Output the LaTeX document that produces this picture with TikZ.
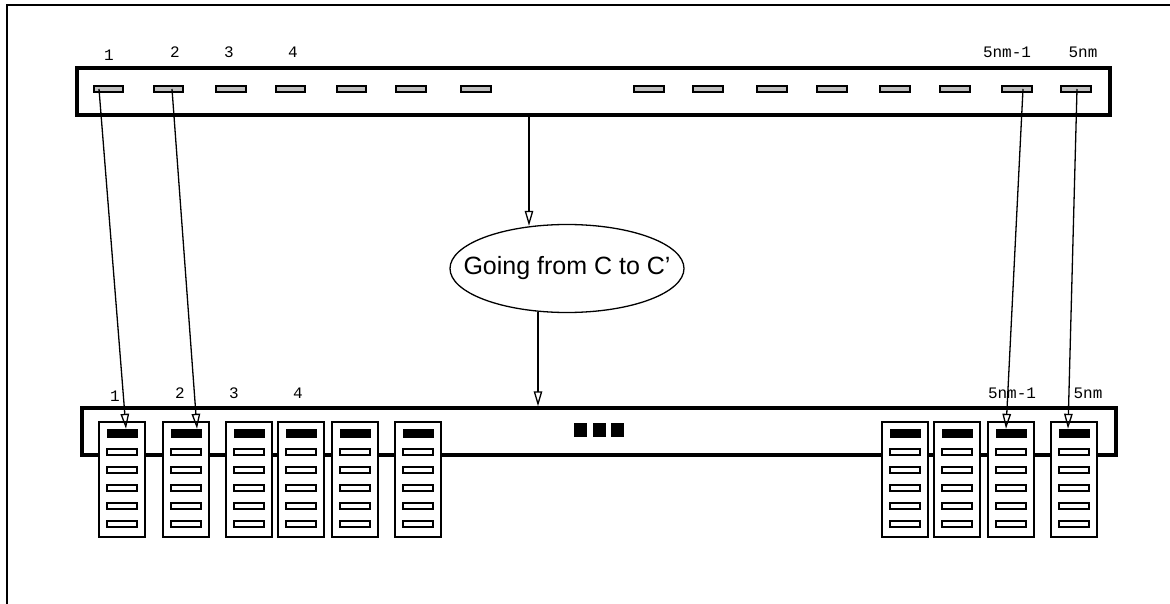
\documentclass[tikz,border=0pt]{standalone}
\usepackage{fontspec}
\setmainfont{Liberation Sans}
\newfontfamily\labfont{Liberation Mono}
\usetikzlibrary{shapes.geometric,arrows.meta,calc}
\definecolor{slotgrey}{RGB}{192,192,192}
\begin{document}
\begin{tikzpicture}[x=1pt,y=-1pt,
  bigbar/.style={draw, line width=3.5pt, fill=white, inner sep=0pt},
  tslot/.style={draw, line width=1.8pt, fill=slotgrey, minimum width=29.5pt, minimum height=6.5pt, inner sep=0pt},
  card/.style={draw, line width=1.6pt, fill=white, minimum width=46.5pt, minimum height=115.5pt, inner sep=0pt},
  kbar/.style={fill=black, minimum width=31pt, minimum height=9pt, inner sep=0pt},
  wslot/.style={draw, line width=1.8pt, fill=white, minimum width=29.5pt, minimum height=6.5pt, inner sep=0pt},
  dotsq/.style={fill=black, minimum width=13pt, minimum height=14pt, inner sep=0pt},
  lab/.style={font=\labfont\fontsize{16}{16}\selectfont, inner sep=0pt},
  arr/.style={line width=1.3pt, -{Triangle[open, length=15pt, width=8.5pt]}}]
\useasboundingbox (0,0) rectangle (1170,604);
% frame
\draw[line width=2pt] (7,604) -- (7,5) -- (1170,5);
% top bar
\node[bigbar, minimum width=1033pt, minimum height=47pt] (top) at (593.5,91.5) {};
\foreach \x [count=\i] in {108.5,168.5,231,290.5,351.5,411,476,649,708,772,832,895,955,1017,1076}
  \node[tslot] (t\i) at (\x,89) {};
% top labels
\node[lab] (lt1) at (109,55) {1};
\node[lab] (lt2) at (175,52) {2};
\node[lab] (lt3) at (229,52) {3};
\node[lab] (lt4) at (293,52) {4};
\node[lab] (lt5) at (1007,52) {5nm-1};
\node[lab] (lt6) at (1083,52) {5nm};
% ellipse
\node[ellipse, draw, line width=1.3pt, minimum width=234pt, minimum height=88pt, inner sep=0pt] (ell) at (567,268.5) {};
\node[font=\fontsize{25}{25}\selectfont, inner sep=0pt] (elltext) at (ell.center) {Going from C to C'};
% bottom bar
\node[bigbar, minimum width=1034pt, minimum height=47pt] (bot) at (599,431.5) {};
\foreach \x [count=\k] in {122,186,249,301,355,418,905,957,1011,1074} {
  \node[card] (c\k) at (\x,479.5) {};
  \node[kbar] (k\k) at (\x,433.5) {};
  \foreach \y [count=\j] in {452,470,488,506,524}
    \node[wslot] (w\k-\j) at (\x,\y) {};
}
\node[dotsq] (d1) at (580.5,430) {};
\node[dotsq] (d2) at (599,430) {};
\node[dotsq] (d3) at (617,430) {};
% bottom labels
\node[lab] (lb1) at (115,396) {1};
\node[lab] (lb2) at (180,393) {2};
\node[lab] (lb3) at (234,393) {3};
\node[lab] (lb4) at (298,393) {4};
\node[lab] (lb5) at (1012,393) {5nm-1};
\node[lab] (lb6) at (1088,393) {5nm};
% arrows
\draw[arr] ($(top.south)+(-64.5,0)$) -- ($(ell.north)+(-38,2)$);
\draw[arr] ($(ell.south)+(-29,-1.5)$) -- ($(bot.north)+(-61,0)$);
\draw[arr] ($(t1.center)+(-9.5,0)$) -- ($(k1.north)+(4,0)$);
\draw[arr] ($(t2.center)+(3.5,0)$) -- ($(k2.north)+(11,0)$);
\draw[arr] ($(t14.center)+(6,0)$) -- ($(k9.north)+(-5,0)$);
\draw[arr] ($(t15.center)+(1,0)$) -- ($(k10.north)+(-6,0)$);
\end{tikzpicture}
\end{document}
